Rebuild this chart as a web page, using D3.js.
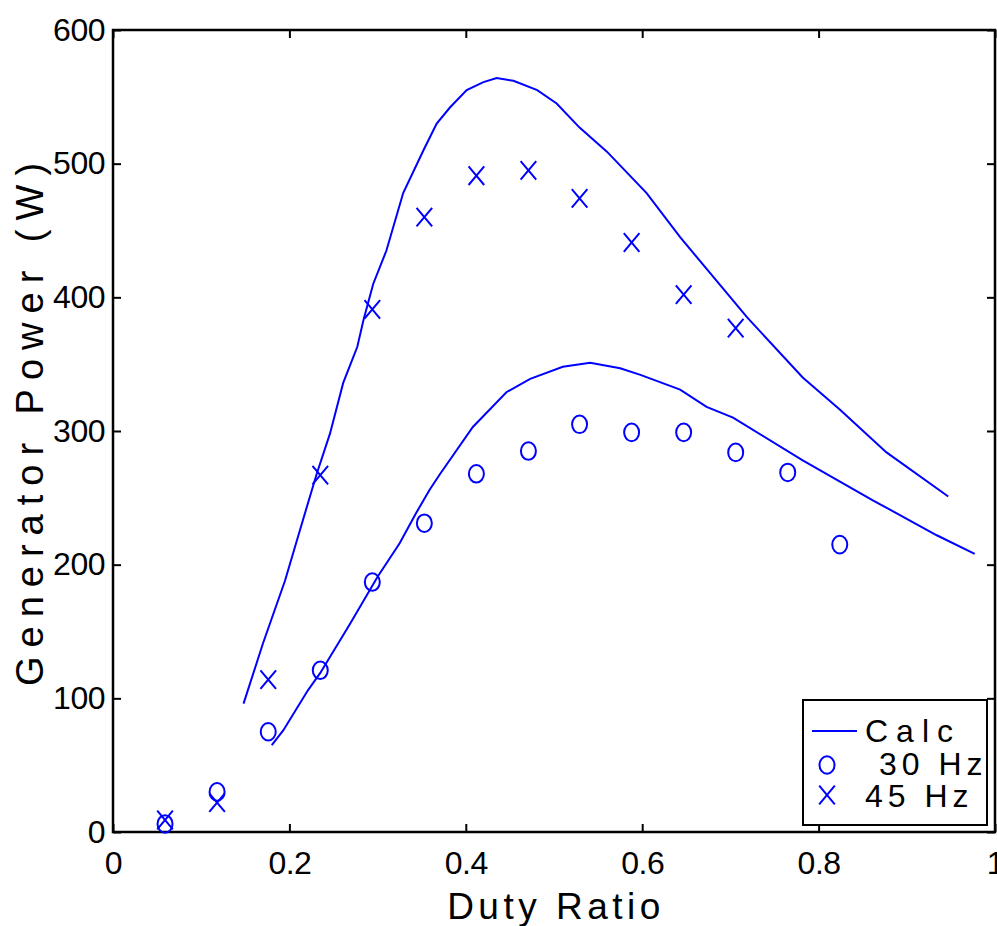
<!DOCTYPE html>
<html><head><meta charset="utf-8">
<script src="https://cdn.jsdelivr.net/npm/d3@7"></script>
<style>
html,body{margin:0;padding:0;background:#fff;}
svg{display:block;font-family:"Liberation Sans",Arial,sans-serif;}
</style></head>
<body>
<svg id="chart" width="997" height="926"></svg>
<script>
// ---- data ----
const xTicks = [0, 0.2, 0.4, 0.6, 0.8, 1];
const yTicks = [0, 100, 200, 300, 400, 500, 600];
const dutyMeas = [0.059, 0.118, 0.176, 0.235, 0.294, 0.353, 0.412, 0.471, 0.529, 0.588, 0.647, 0.706, 0.765, 0.824];
const meas30 = [6, 30, 75, 121, 187, 231, 268, 285, 305, 299, 299, 284, 269, 215];
const meas45 = [9, 22, 114, 267, 391, 460, 491, 495, 474, 441, 402, 377];
const calc45X = [0.148,0.170,0.195,0.212,0.231,0.246,0.261,0.277,0.284,0.295,0.310,0.329,0.352,0.367,0.382,0.401,0.420,0.435,0.454,0.481,0.503,0.529,0.560,0.605,0.643,0.719,0.782,0.824,0.877,0.947];
const calc45Y = [96,141,188,226,268,298,336,363,383,410,435,478,510,530,542,555,561,564,562,555,545,527,509,478,445,385,340,316,284,251];
const calc30X = [0.180,0.193,0.221,0.235,0.269,0.300,0.325,0.344,0.359,0.371,0.408,0.446,0.473,0.510,0.541,0.575,0.598,0.643,0.673,0.703,0.782,0.862,0.934,0.977];
const calc30Y = [65,76,106,119,156,191,216,239,256,268,303,329,339,348,351,347,342,331,318,310,278,248,222,208];
const legendLabels = ["Calc", " 30 Hz", "45 Hz"];

// ---- layout ----
const L = 113, R = 995, T = 30, B = 832;
const blue = "#0000ff";
const svg = d3.select("#chart");
const x = d3.scaleLinear().domain([0, 1]).range([L, R]);
const y = d3.scaleLinear().domain([0, 600]).range([B, T]);

// axes
const gx = svg.append("g").attr("transform", `translate(0,${B})`)
  .call(d3.axisBottom(x).tickValues(xTicks).tickFormat(d3.format("")).tickSize(-8).tickPadding(19));
const gxt = svg.append("g").attr("transform", `translate(0,${T})`)
  .call(d3.axisTop(x).tickValues(xTicks).tickFormat("").tickSize(-8));
const gy = svg.append("g").attr("transform", `translate(${L},0)`)
  .call(d3.axisLeft(y).tickValues(yTicks).tickSize(-8).tickPadding(8));
const gyr = svg.append("g").attr("transform", `translate(${R},0)`)
  .call(d3.axisRight(y).tickValues(yTicks).tickFormat("").tickSize(-8));
[gx, gxt, gy, gyr].forEach(g => {
  g.select(".domain").remove();
  g.selectAll(".tick line").attr("stroke", "#000").attr("stroke-width", 2);
  g.selectAll(".tick text").attr("fill", "#000").style("font-size", "32px")
    .style("letter-spacing", "-0.5px")
    .style("font-family", '"Liberation Sans",Arial,sans-serif');
});
svg.append("rect").attr("x", L).attr("y", T).attr("width", R - L).attr("height", B - T)
  .attr("fill", "none").attr("stroke", "#000").attr("stroke-width", 2.5);

// axis labels
svg.append("text").attr("x", 556).attr("y", 919).attr("text-anchor", "middle")
  .style("font-size", "37px").style("letter-spacing", "4.5px").text("Duty Ratio");
svg.append("text").attr("transform", "translate(43,420) rotate(-90)").attr("text-anchor", "middle")
  .style("font-size", "38px").style("letter-spacing", "9px").text("Generator Power (W)");

// calc lines
const line = d3.line().x(d => x(d[0])).y(d => y(d[1]));
[[calc45X, calc45Y], [calc30X, calc30Y]].forEach(([xs, ys]) => {
  svg.append("path").datum(xs.map((v, i) => [v, ys[i]]))
    .attr("d", line).attr("fill", "none").attr("stroke", blue).attr("stroke-width", 2);
});

// markers
function circleMark(g, cx, cy) {
  g.append("ellipse").attr("cx", cx).attr("cy", cy).attr("rx", 7.5).attr("ry", 8.8)
    .attr("fill", "none").attr("stroke", blue).attr("stroke-width", 2);
}
function crossMark(g, cx, cy) {
  g.append("path").attr("d", `M${cx-7.8},${cy-9.3}L${cx+7.8},${cy+9.3}M${cx-7.8},${cy+9.3}L${cx+7.8},${cy-9.3}`)
    .attr("fill", "none").attr("stroke", blue).attr("stroke-width", 2);
}
const gm = svg.append("g");
meas30.forEach((v, i) => circleMark(gm, x(dutyMeas[i]), y(v)));
meas45.forEach((v, i) => crossMark(gm, x(dutyMeas[i]), y(v)));

// legend
const lg = svg.append("g");
lg.append("rect").attr("x", 803).attr("y", 700).attr("width", 184).attr("height", 125)
  .attr("fill", "#fff").attr("stroke", "#000").attr("stroke-width", 2);
lg.append("line").attr("x1", 812).attr("x2", 857).attr("y1", 731).attr("y2", 731)
  .attr("stroke", blue).attr("stroke-width", 2);
circleMark(lg, 827, 765);
crossMark(lg, 827, 795);
const ly = [742, 775, 807];
legendLabels.forEach((t, i) => {
  lg.append("text").attr("x", 865).attr("y", ly[i]).attr("xml:space", "preserve")
    .style("white-space", "pre")
    .style("font-size", "32px").style("letter-spacing", i === 0 ? "8px" : "5px").text(t);
});
</script>
</body></html>
